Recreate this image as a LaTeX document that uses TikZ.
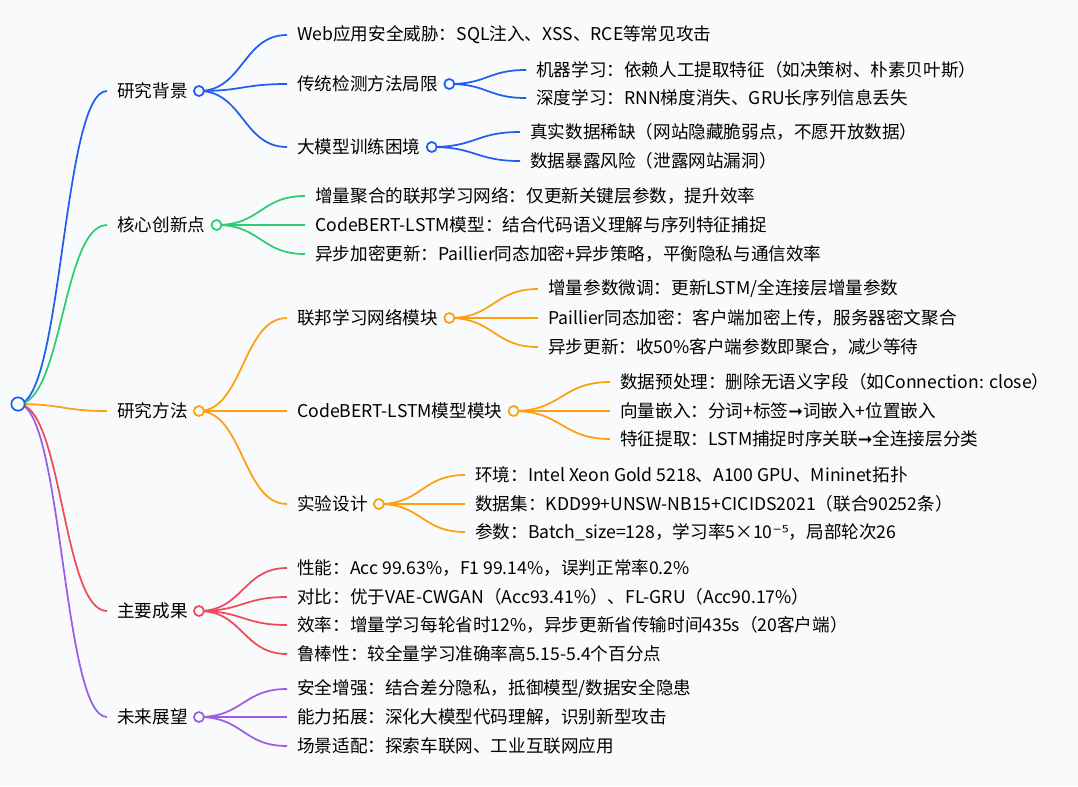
\documentclass[tikz,border=0pt]{standalone}
\usepackage{fontspec}
\setmainfont{Noto Sans CJK SC}
\newfontfamily\dv{DejaVu Sans}
\usetikzlibrary{calc}
\definecolor{cb}{HTML}{1F5EF0}
\definecolor{cg}{HTML}{2ECC71}
\definecolor{co}{HTML}{FF9F0F}
\definecolor{cr}{HTML}{EF4A5A}
\definecolor{cp}{HTML}{9B5DE5}
\definecolor{bg}{HTML}{F9FAFB}
\newcommand\tn[4]{\node[txt] (#1) at (#2,#3) {#4}; \coordinate (#1e) at (#2-10,#3);}
\newcommand\cc[1]{\coordinate (#1c) at ($(#1.east)+(11,0)$);}
\newcommand\edg[3]{\coordinate (mid) at ($(#2)!0.5!(#3)$);
  \draw[ed,#1] (#2) .. controls (mid |- #2) and (mid |- #3) .. (#3);}
\begin{document}
\begin{tikzpicture}[x=0.75pt,y=-0.75pt,
  txt/.style={anchor=west,inner sep=0pt,font=\fontsize{13.2pt}{15pt}\selectfont},
  ed/.style={line width=1.3pt},
  dot/.style={circle,draw,fill=bg,line width=1.3pt,inner sep=0pt,minimum size=7.5pt}]
\fill[bg] (0,0) rectangle (1078,786);
\useasboundingbox (0,0) rectangle (1078,786);
\coordinate (root) at (18,404);
% level 1
\tn{a}{117}{91}{研究背景}\cc{a}
\tn{b}{117}{225}{核心创新点}\cc{b}
\tn{m}{117}{411}{研究方法}\cc{m}
\tn{r}{117}{611}{主要成果}\cc{r}
\tn{f}{117}{717}{未来展望}\cc{f}
% background
\tn{a1}{297}{35}{Web应用安全威胁：SQL注入、XSS、RCE等常见攻击}
\tn{a2}{297}{84}{传统检测方法局限}\cc{a2}
\tn{a3}{297}{147}{大模型训练困境}\cc{a3}
\tn{a21}{536}{70}{机器学习：依赖人工提取特征（如决策树、朴素贝叶斯）}
\tn{a22}{536}{98}{深度学习：RNN梯度消失、GRU长序列信息丢失}
\tn{a31}{530}{132}{真实数据稀缺（网站隐藏脆弱点，不愿开放数据）}
\tn{a32}{530}{161}{数据暴露风险（泄露网站漏洞）}
% innovation
\tn{b1}{315}{196}{增量聚合的联邦学习网络：仅更新关键层参数，提升效率}
\tn{b2}{315}{225}{CodeBERT-LSTM模型：结合代码语义理解与序列特征捕捉}
\tn{b3}{315}{254}{异步加密更新：Paillier同态加密+异步策略，平衡隐私与通信效率}
% method
\tn{m1}{297}{318}{联邦学习网络模块}\cc{m1}
\tn{m2}{297}{411}{CodeBERT-LSTM模型模块}\cc{m2}
\tn{m3}{297}{504}{实验设计}\cc{m3}
\tn{m11}{548}{289}{增量参数微调：更新LSTM/全连接层增量参数}
\tn{m12}{548}{318}{Paillier同态加密：客户端加密上传，服务器密文聚合}
\tn{m13}{548}{347}{异步更新：收50\%客户端参数即聚合，减少等待}
\tn{m21}{620}{382}{数据预处理：删除无语义字段（如Connection: close）}
\tn{m22}{620}{411}{向量嵌入：分词+标签{\dv ➞}词嵌入+位置嵌入}
\tn{m23}{620}{439}{特征提取：LSTM捕捉时序关联{\dv ➞}全连接层分类}
\tn{m31}{475}{475}{环境：Intel Xeon Gold 5218、A100 GPU、Mininet拓扑}
\tn{m32}{475}{504}{数据集：KDD99+UNSW-NB15+CICIDS2021（联合90252条）}
\tn{m33}{475}{532}{参数：Batch\_size=128，学习率5×10{\dv ⁻⁵}，局部轮次26}
% results
\tn{r1}{297}{568}{性能：Acc 99.63\%，F1 99.14\%，误判正常率0.2\%}
\tn{r2}{297}{597}{对比：优于VAE-CWGAN（Acc93.41\%）、FL-GRU（Acc90.17\%）}
\tn{r3}{297}{625}{效率：增量学习每轮省时12\%，异步更新省传输时间435s（20客户端）}
\tn{r4}{297}{654}{鲁棒性：较全量学习准确率高5.15-5.4个百分点}
% future
\tn{f1}{297}{689}{安全增强：结合差分隐私，抵御模型/数据安全隐患}
\tn{f2}{297}{717}{能力拓展：深化大模型代码理解，识别新型攻击}
\tn{f3}{297}{746}{场景适配：探索车联网、工业互联网应用}
% edges
\foreach \c/\n in {cb/a,cg/b,co/m,cr/r,cp/f} {\edg{\c}{root}{\n e}}
\foreach \n in {a1,a2,a3} {\edg{cb}{ac}{\n e}}
\foreach \n in {a21,a22} {\edg{cb}{a2c}{\n e}}
\foreach \n in {a31,a32} {\edg{cb}{a3c}{\n e}}
\foreach \n in {b1,b2,b3} {\edg{cg}{bc}{\n e}}
\foreach \n in {m1,m2,m3} {\edg{co}{mc}{\n e}}
\foreach \n in {m11,m12,m13} {\edg{co}{m1c}{\n e}}
\foreach \n in {m21,m22,m23} {\edg{co}{m2c}{\n e}}
\foreach \n in {m31,m32,m33} {\edg{co}{m3c}{\n e}}
\foreach \n in {r1,r2,r3,r4} {\edg{cr}{rc}{\n e}}
\foreach \n in {f1,f2,f3} {\edg{cp}{fc}{\n e}}
% dots
\node[dot,draw=cb,minimum size=10pt] at (root) {};
\foreach \c/\n in {cb/a,cg/b,co/m,cr/r,cp/f,cb/a2,cb/a3,co/m1,co/m2,co/m3}
  \node[dot,draw=\c] at (\n c) {};
\end{tikzpicture}
\end{document}
